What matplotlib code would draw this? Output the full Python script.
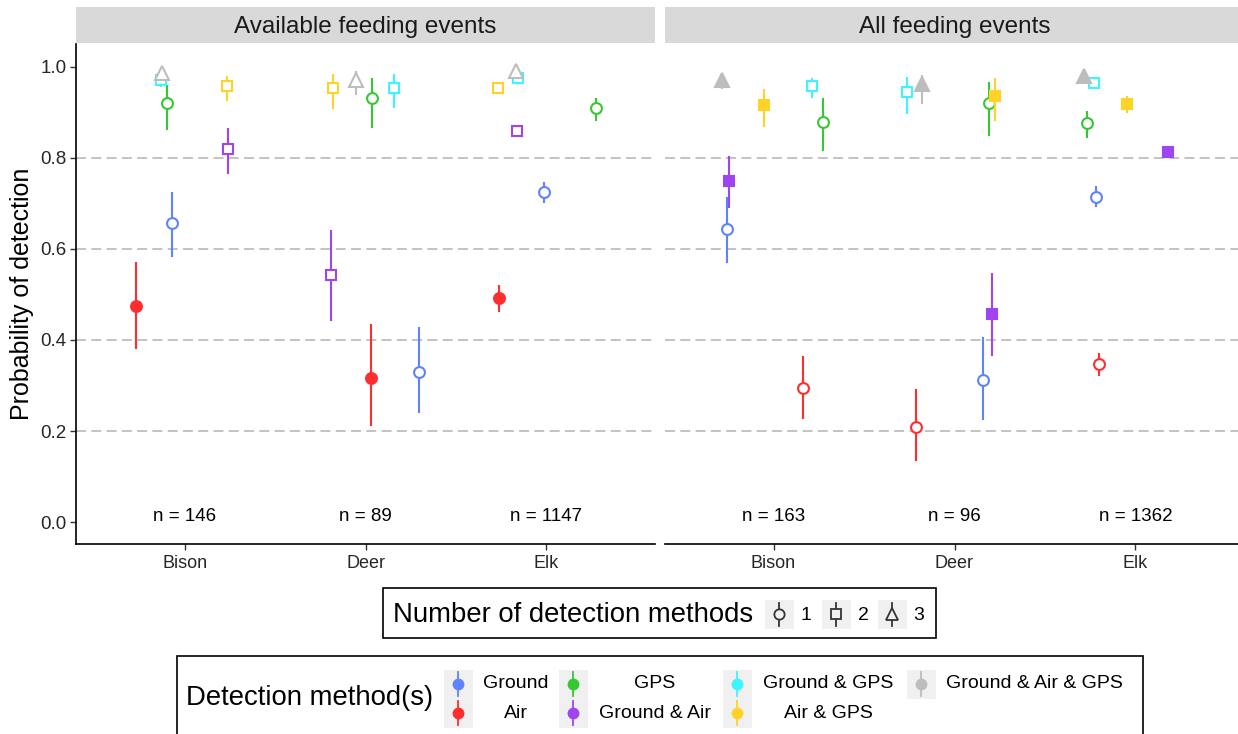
import matplotlib
matplotlib.use("Agg")
import matplotlib.pyplot as plt
from matplotlib.patches import Rectangle

plt.rcParams['font.family'] = ['Liberation Sans', 'DejaVu Sans']
plt.rcParams['lines.scale_dashes'] = False

# ---------------------------------------------------------------- data
species = ["Bison", "Deer", "Elk"]
panels = ["Available feeding events", "All feeding events"]
methods = ["Ground", "Air", "GPS", "Ground & Air", "Ground & GPS",
           "Air & GPS", "Ground & Air & GPS"]
n_methods = [1, 1, 1, 2, 2, 2, 3]
sample_avail = [146, 89, 1147]
sample_all = [163, 96, 1362]

# detection probability estimates, rows follow `methods`, columns follow `species`
est_avail = [[0.657, 0.330, 0.725],
             [0.475, 0.316, 0.492],
             [0.921, 0.932, 0.909],
             [0.820, 0.543, 0.860],
             [0.971, 0.954, 0.975],
             [0.958, 0.954, 0.954],
             [0.987, 0.971, 0.990]]
lo_avail = [[0.582, 0.240, 0.701],
            [0.380, 0.211, 0.461],
            [0.862, 0.866, 0.881],
            [0.765, 0.442, 0.853],
            [0.955, 0.910, 0.965],
            [0.925, 0.908, 0.944],
            [0.975, 0.938, 0.980]]
hi_avail = [[0.725, 0.428, 0.747],
            [0.571, 0.435, 0.521],
            [0.960, 0.976, 0.932],
            [0.866, 0.642, 0.867],
            [0.985, 0.985, 0.983],
            [0.980, 0.985, 0.963],
            [0.995, 0.990, 0.996]]

est_all = [[0.644, 0.312, 0.714],
           [0.294, 0.209, 0.347],
           [0.879, 0.921, 0.877],
           [0.749, 0.457, 0.813],
           [0.958, 0.945, 0.965],
           [0.915, 0.936, 0.919],
           [0.971, 0.963, 0.979]]
lo_all = [[0.569, 0.224, 0.692],
          [0.226, 0.134, 0.321],
          [0.816, 0.848, 0.844],
          [0.690, 0.365, 0.805],
          [0.932, 0.897, 0.958],
          [0.868, 0.881, 0.899],
          [0.952, 0.919, 0.972]]
hi_all = [[0.714, 0.407, 0.738],
          [0.365, 0.292, 0.371],
          [0.932, 0.967, 0.903],
          [0.804, 0.547, 0.824],
          [0.976, 0.978, 0.972],
          [0.951, 0.976, 0.936],
          [0.980, 0.982, 0.987]]

# horizontal jitter (category units) used for each estimate
jitter_avail = [[-0.070, 0.295, -0.014],
                [-0.268, 0.030, -0.263],
                [-0.097, 0.035, 0.273],
                [0.240, -0.191, -0.164],
                [-0.130, 0.157, -0.158],
                [0.234, -0.180, -0.268],
                [-0.125, -0.053, -0.169]]
jitter_all = [[-0.257, 0.157, -0.219],
              [0.162, -0.213, -0.202],
              [0.273, 0.190, -0.268],
              [-0.246, 0.207, 0.179],
              [0.212, -0.263, -0.230],
              [-0.053, 0.223, -0.048],
              [-0.285, -0.180, -0.285]]

# solid markers per method in each panel
solid_avail = [False, True, False, False, False, False, False]
solid_all = [False, False, False, True, False, True, True]

# ---------------------------------------------------------------- styles
colors = ["#5F82FF", "#FF2D2D", "#36C832", "#A044F0", "#3CF5FF",
          "#FFD228", "#BDBDBD"]
shape_of = {1: "o", 2: "s", 3: "^"}
size_of = {1: 7.8, 2: 7.0, 3: 9.5}

W, H = 1238, 734
fig = plt.figure(figsize=(W / 100, H / 100), dpi=100)


def px_axes(x0, y0, x1, y1, **kw):
    return fig.add_axes([x0 / W, 1 - y1 / H, (x1 - x0) / W, (y1 - y0) / H], **kw)


TXT = "#262626"
panel_boxes = [(76, 44, 655, 544), (665, 44, 1244, 544)]
panel_data = [
    (est_avail, lo_avail, hi_avail, jitter_avail, solid_avail, sample_avail),
    (est_all, lo_all, hi_all, jitter_all, solid_all, sample_all),
]

for p, (box, (est, lo, hi, jit, solid, ns)) in enumerate(zip(panel_boxes, panel_data)):
    ax = px_axes(*box)
    ax.set_xlim(0.4, 3.6)
    ax.set_ylim(-0.048, 1.05)
    ax.set_facecolor("white")
    for g in [0.2, 0.4, 0.6, 0.8]:
        ax.axhline(g, color="#BEBEBE", lw=1.3, dashes=(7.2, 3.8), zorder=0.5)

    z = 2
    for s in range(len(species)):
        for m in range(len(methods)):
            x = s + 1 + jit[m][s]
            c = colors[m]
            ax.plot([x, x], [lo[m][s], hi[m][s]], color=c, lw=1.5,
                    solid_capstyle="butt", zorder=z)
            ax.plot([x], [est[m][s]], marker=shape_of[n_methods[m]],
                    ms=size_of[n_methods[m]], mew=1.5, mec=c,
                    mfc=c if solid[m] else "white", zorder=z + 0.5)
            z += 1

    for s, n in enumerate(ns):
        ax.text(s + 1, 0.012, f"n = {n}", ha="center", va="center",
                fontsize=13.5, color="black", zorder=100)

    ax.set_xticks([1, 2, 3])
    ax.set_xticklabels(species, fontsize=13, color=TXT)
    ax.tick_params(axis="x", length=4, width=1.0, color="#333333", pad=4)
    for side in ["top", "right"]:
        ax.spines[side].set_visible(False)
    ax.spines["bottom"].set_linewidth(1.2)
    ax.spines["bottom"].set_color("black")
    if p == 0:
        ax.spines["left"].set_linewidth(1.2)
        ax.spines["left"].set_color("black")
        ax.set_yticks([0.0, 0.2, 0.4, 0.6, 0.8, 1.0])
        ax.set_yticklabels(["0.0", "0.2", "0.4", "0.6", "0.8", "1.0"],
                           fontsize=13.5, color=TXT)
        ax.tick_params(axis="y", length=4, width=1.0, color="#333333", pad=3)
    else:
        ax.spines["left"].set_visible(False)
        ax.set_yticks([])

fig.text(22 / W, 1 - 294 / H, "Probability of detection", rotation=90,
         ha="center", va="center", fontsize=18, color="black")

# ---------------------------------------------------------------- overlay: strips and legends
ov = fig.add_axes([0, 0, 1, 1], zorder=50)
ov.set_xlim(0, W)
ov.set_ylim(H, 0)
ov.axis("off")
ov.patch.set_alpha(0)

for (x0, y0, x1, y1), title in zip(panel_boxes, panels):
    ov.add_patch(Rectangle((x0, 7), x1 - x0, 36, facecolor="#D9D9D9",
                           edgecolor="none"))
    ov.text((x0 + x1) / 2, 27.5, title, ha="center", va="center",
            fontsize=17.5, color="#1A1A1A")

# legend: number of detection methods
ov.add_patch(Rectangle((383, 588), 553, 50, facecolor="white",
                       edgecolor="black", lw=1.2))
ov.text(393, 615, "Number of detection methods", ha="left", va="center",
        fontsize=19.8, color="black")
key_x = [779, 836, 892]
for k, cx in enumerate(key_x):
    nm = k + 1
    ov.add_patch(Rectangle((cx - 14.5, 600), 29, 29, facecolor="#F0F0F0",
                           edgecolor="none"))
    ov.plot([cx, cx], [603, 626], color="#333333", lw=1.3)
    ov.plot([cx], [614], marker=shape_of[nm], ms=size_of[nm] * 0.95,
            mew=1.3, mec="#333333", mfc="#F0F0F0")
    ov.text(cx + 27, 615, str(nm), ha="center", va="center", fontsize=14,
            color="black")

# legend: detection method(s)
ov.add_patch(Rectangle((177, 656), 966, 90, facecolor="white",
                       edgecolor="black", lw=1.2))
ov.text(186, 698, "Detection method(s)", ha="left", va="center",
        fontsize=19.8, color="black")
col_key = [458, 573, 737, 921]
col_lab = [516, 655, 828, 1034]
row_y = [684, 713]
for m, name in enumerate(methods):
    col, row = divmod(m, 2)
    kx, ky = col_key[col], row_y[row]
    if row == 0:
        nrows = 2 if m + 1 < len(methods) else 1
        ov.add_patch(Rectangle((kx - 14.5, 669.5), 29, 29 * nrows,
                               facecolor="#F0F0F0", edgecolor="none"))
    ov.plot([kx, kx], [ky - 12, ky + 12], color=colors[m], lw=1.3)
    ov.plot([kx], [ky], marker="o", ms=8.5, mew=0, color=colors[m])
    ov.text(col_lab[col], ky, name, ha="center", va="center", fontsize=14,
            color="black")

fig.savefig("out.png", dpi=100)
